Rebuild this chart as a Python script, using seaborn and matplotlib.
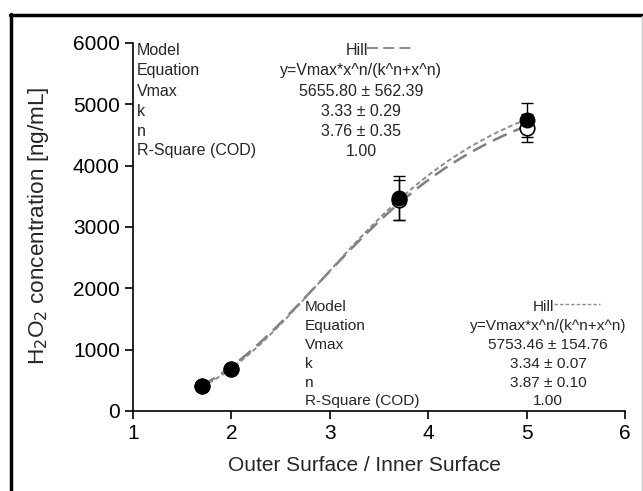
import numpy as np
import pandas as pd
import matplotlib
matplotlib.use("Agg")
import matplotlib.pyplot as plt
from matplotlib.lines import Line2D
import seaborn as sns

# ---- data ----
x_vals = [1.7, 2.0, 3.7, 5.0]
filled_y = [410, 690, 3475, 4745]
filled_err = [30, 40, 360, 275]
open_y = [400, 680, 3440, 4615]
open_err = [30, 40, 330, 230]

# Hill fit parameters shown in the tables
fit1 = dict(Vmax=5655.80, k=3.33, n=3.76)
fit2 = dict(Vmax=5753.46, k=3.34, n=3.87)
table1_labels = ["Model", "Equation", "Vmax", "k", "n", "R-Square (COD)"]
table1_values = ["Hill", "y=Vmax*x^n/(k^n+x^n)", "5655.80 ± 562.39", "3.33 ± 0.29", "3.76 ± 0.35", "1.00"]
table2_values = ["Hill", "y=Vmax*x^n/(k^n+x^n)", "5753.46 ± 154.76", "3.34 ± 0.07", "3.87 ± 0.10", "1.00"]

x_ticks = [1, 2, 3, 4, 5, 6]
y_ticks = [0, 1000, 2000, 3000, 4000, 5000, 6000]

sns.set_style("ticks")
plt.rcParams['font.family'] = ['Liberation Sans', 'DejaVu Sans']

W, H = 643, 491
fig = plt.figure(figsize=(W / 100, H / 100), dpi=100)

def fx(px):
    return px / W

def fy(py):
    return 1 - py / H

AX_L, AX_R, AX_T, AX_B = 133, 625, 43, 411
ax = fig.add_axes([fx(AX_L), fy(AX_B), fx(AX_R) - fx(AX_L), fy(AX_T) - fy(AX_B)])

def axx(px):
    return (px - AX_L) / (AX_R - AX_L)

def axy(py):
    return (AX_B - py) / (AX_B - AX_T)

# fitted curves
xs = np.linspace(x_vals[0], x_vals[-1], 200)
def hill(x, p):
    return p['Vmax'] * x ** p['n'] / (p['k'] ** p['n'] + x ** p['n'])

c1 = pd.DataFrame({'x': xs, 'y': hill(xs, fit1)})
c2 = pd.DataFrame({'x': xs, 'y': hill(xs, fit2)})
sns.lineplot(data=c1, x='x', y='y', ax=ax, color='#7f7f7f', lw=1.8,
             dashes=False, zorder=2)
ax.lines[-1].set_dashes([6, 3])
sns.lineplot(data=c2, x='x', y='y', ax=ax, color='#8c8c8c', lw=1.4,
             dashes=False, zorder=2)
ax.lines[-1].set_dashes([2.5, 1.5])

# error bars
ax.errorbar(x_vals, open_y, yerr=open_err, fmt='none', ecolor='black',
            elinewidth=1, capsize=4, capthick=1, zorder=3)
ax.errorbar(x_vals, filled_y, yerr=filled_err, fmt='none', ecolor='black',
            elinewidth=1, capsize=4, capthick=1, zorder=3)

df_open = pd.DataFrame({'x': x_vals, 'y': open_y})
df_fill = pd.DataFrame({'x': x_vals, 'y': filled_y})
sns.scatterplot(data=df_open, x='x', y='y', ax=ax, s=110, color='white',
                edgecolor='black', linewidth=1.2, zorder=4)
sns.scatterplot(data=df_fill, x='x', y='y', ax=ax, s=110, color='black',
                edgecolor='black', linewidth=1.0, zorder=5)

ax.set_xlim(1, 6)
ax.set_ylim(0, 6000)
ax.set_xticks(x_ticks)
ax.set_yticks(y_ticks)
ax.set_xticklabels([str(t) for t in x_ticks])
ax.set_yticklabels([str(t) for t in y_ticks])
ax.tick_params(axis='both', labelsize=15, direction='out', length=6, width=1.2,
               color='black', labelcolor='black')
for s in ['top', 'right']:
    ax.spines[s].set_visible(False)
for s in ['left', 'bottom']:
    ax.spines[s].set_linewidth(1.2)
    ax.spines[s].set_color('black')

ax.set_xlabel("Outer Surface / Inner Surface", fontsize=15)
ax.set_ylabel("H$_2$O$_2$ concentration [ng/mL]", fontsize=16.2)
ax.xaxis.set_label_coords(axx(364), axy(456))
ax.yaxis.set_label_coords(axx(51), axy(226))

# tables
rows1 = [50, 71, 91, 111, 131, 151]
for lab, val, py in zip(table1_labels, table1_values, rows1):
    fig.text(fx(137), fy(py), lab, fontsize=11.5, ha='left', va='center')
    if lab == "Model":
        fig.text(fx(357), fy(py), val, fontsize=11.5, ha='center', va='center')
    else:
        fig.text(fx(361), fy(py), val, fontsize=11.5, ha='center', va='center')
l1 = Line2D([fx(367), fx(412)], [fy(48), fy(48)], transform=fig.transFigure,
            color='#7f7f7f', lw=1.3, dashes=[6, 3])
fig.add_artist(l1)

rows2 = [307, 326, 345, 364, 383, 401]
for lab, val, py in zip(table1_labels, table2_values, rows2):
    fig.text(fx(305), fy(py), lab, fontsize=11.1, ha='left', va='center')
    if lab == "Model":
        fig.text(fx(544), fy(py), val, fontsize=11.1, ha='center', va='center')
    else:
        fig.text(fx(548), fy(py), val, fontsize=11.1, ha='center', va='center')
l2 = Line2D([fx(554), fx(600)], [fy(304), fy(304)], transform=fig.transFigure,
            color='#8c8c8c', lw=1.0, dashes=[2.5, 1.5])
fig.add_artist(l2)

# outer frame
fig.add_artist(Line2D([fx(11), fx(11)], [fy(14), 0], transform=fig.transFigure,
                      color='black', lw=2.5))
fig.add_artist(Line2D([fx(10), 1], [fy(14.5), fy(14.5)], transform=fig.transFigure,
                      color='black', lw=2.5))
fig.add_artist(Line2D([fx(641.5), fx(641.5)], [fy(16), 0], transform=fig.transFigure,
                      color='#c8c8c8', lw=1.0))

fig.savefig("out.png", dpi=100)
